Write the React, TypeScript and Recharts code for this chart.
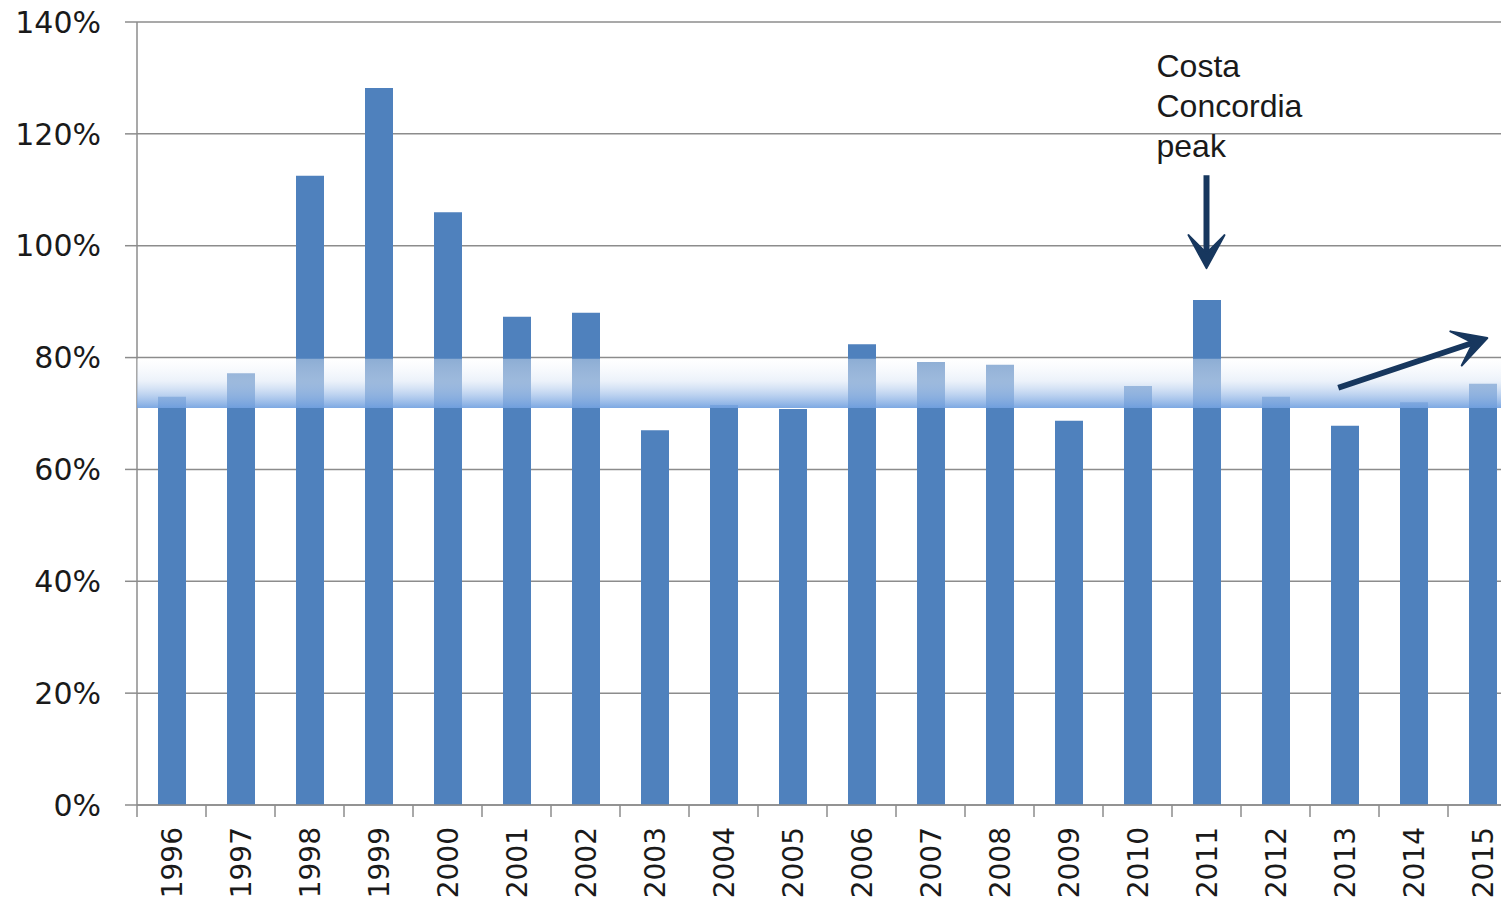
import React from 'react';
import { BarChart, Bar, XAxis, YAxis, CartesianGrid, ReferenceArea, ReferenceLine } from 'recharts';

const years = ['1996', '1997', '1998', '1999', '2000', '2001', '2002', '2003', '2004', '2005', '2006', '2007', '2008', '2009', '2010', '2011', '2012', '2013', '2014', '2015'];
const ratios = [73, 77.2, 112.5, 128.2, 106, 87.3, 88, 67, 71.5, 70.8, 82.4, 79.2, 78.7, 68.7, 74.9, 90.3, 73, 67.8, 72, 75.3];
const yTicks = [0, 20, 40, 60, 80, 100, 120, 140];
const bandRange = [71, 79.8];
const peakArrow = [{ x: 15.5, y: 112.6 }, { x: 15.5, y: 96 }];
const trendArrow = [{ x: 17.41, y: 74.6 }, { x: 19.57, y: 83.5 }];
const noteLines = ['Costa', 'Concordia', 'peak'];

const data = years.map((year, i) => ({ year, pos: i + 0.5, ratio: ratios[i] }));
const boundaryTicks = [...years.map((_, i) => i), years.length];

const GRID = '#8c8c8c';
const TEXT = '#1a1a1a';
const NAVY = '#17375e';

function makeArrow(label?: string[]) {
  return (props: any) => {
    const { x1, y1, x2, y2 } = props;
    const dx = x2 - x1;
    const dy = y2 - y1;
    const len = Math.hypot(dx, dy) || 1;
    const ux = dx / len;
    const uy = dy / len;
    const px = -uy;
    const py = ux;
    const headL = 33;
    const headW = 18;
    const notch = 15;
    const bx = x2 - ux * headL;
    const by = y2 - uy * headL;
    const pts = [
      [x2, y2],
      [bx + px * headW, by + py * headW],
      [x2 - ux * notch, y2 - uy * notch],
      [bx - px * headW, by - py * headW],
    ]
      .map((p) => p.join(','))
      .join(' ');
    return (
      <g>
        <line x1={x1} y1={y1} x2={x2 - ux * notch} y2={y2 - uy * notch} stroke={NAVY} strokeWidth={6} />
        <polygon points={pts} fill={NAVY} stroke={NAVY} strokeWidth={2} strokeLinejoin="round" />
        {label &&
          label.map((t, i) => (
            <text
              key={t}
              x={x1 - 50}
              y={y1 - 98 + i * 40}
              fontSize={32}
              fontFamily="'Liberation Sans', Arial, sans-serif"
              fill={TEXT}
            >
              {t}
            </text>
          ))}
      </g>
    );
  };
}

const YearTick = (props: any) => {
  const { x, y, payload } = props;
  return (
    <text
      transform={`translate(${x + 1},${y + 10}) rotate(-90)`}
      textAnchor="end"
      dominantBaseline="central"
      fontSize={28}
      fontFamily="'DejaVu Sans', sans-serif"
      fill={TEXT}
    >
      {payload.value}
    </text>
  );
};

export default function App() {
  return (
    <div style={{ position: 'absolute', left: 0, top: 0, width: 1501, height: 903, overflow: 'hidden', background: '#fff' }}>
      <BarChart width={1517} height={903} data={data} margin={{ top: 22, right: 0, left: 0, bottom: 0 }}>
        <defs>
          <linearGradient id="band" x1="0" y1="0" x2="0" y2="1">
            <stop offset="0" stopColor="#ffffff" stopOpacity={0.35} />
            <stop offset="0.45" stopColor="#dce7f6" stopOpacity={0.55} />
            <stop offset="1" stopColor="#72a1e0" stopOpacity={0.92} />
          </linearGradient>
        </defs>
        <CartesianGrid vertical={false} stroke={GRID} strokeWidth={1.5} xAxisId="a" />
        <XAxis
          xAxisId="a"
          dataKey="pos"
          type="number"
          domain={[0, years.length]}
          allowDataOverflow
          ticks={boundaryTicks}
          interval={0}
          tickSize={12}
          height={12}
          tickLine={{ stroke: GRID, strokeWidth: 1.5 }}
          axisLine={{ stroke: GRID, strokeWidth: 1.5 }}
          tick={() => <g />}
        />
        <XAxis
          xAxisId="b"
          dataKey="year"
          interval={0}
          tickSize={0}
          tickMargin={0}
          height={86}
          tickLine={false}
          axisLine={false}
          tick={<YearTick />}
        />
        <YAxis
          domain={[0, 140]}
          ticks={yTicks}
          interval={0}
          width={137}
          tickSize={12}
          tickMargin={24}
          tickFormatter={(v: number) => `${v}%`}
          tickLine={{ stroke: GRID, strokeWidth: 1.5 }}
          axisLine={{ stroke: GRID, strokeWidth: 1.5 }}
          tick={{ fontSize: 30, fontFamily: "'DejaVu Sans', sans-serif", fill: TEXT }}
        />
        <Bar xAxisId="b" dataKey="ratio" fill="#4f81bd" barSize={28} isAnimationActive={false} />
        <ReferenceArea
          xAxisId="a"
          x1={0}
          x2={years.length}
          y1={bandRange[0]}
          y2={bandRange[1]}
          fill="url(#band)"
          fillOpacity={1}
          stroke="none"
          ifOverflow="extendDomain"
          zIndex={1000}
        />
        <ReferenceLine xAxisId="a" segment={peakArrow} shape={makeArrow(noteLines)} zIndex={1100} />
        <ReferenceLine xAxisId="a" segment={trendArrow} shape={makeArrow()} zIndex={1100} />
      </BarChart>
    </div>
  );
}
